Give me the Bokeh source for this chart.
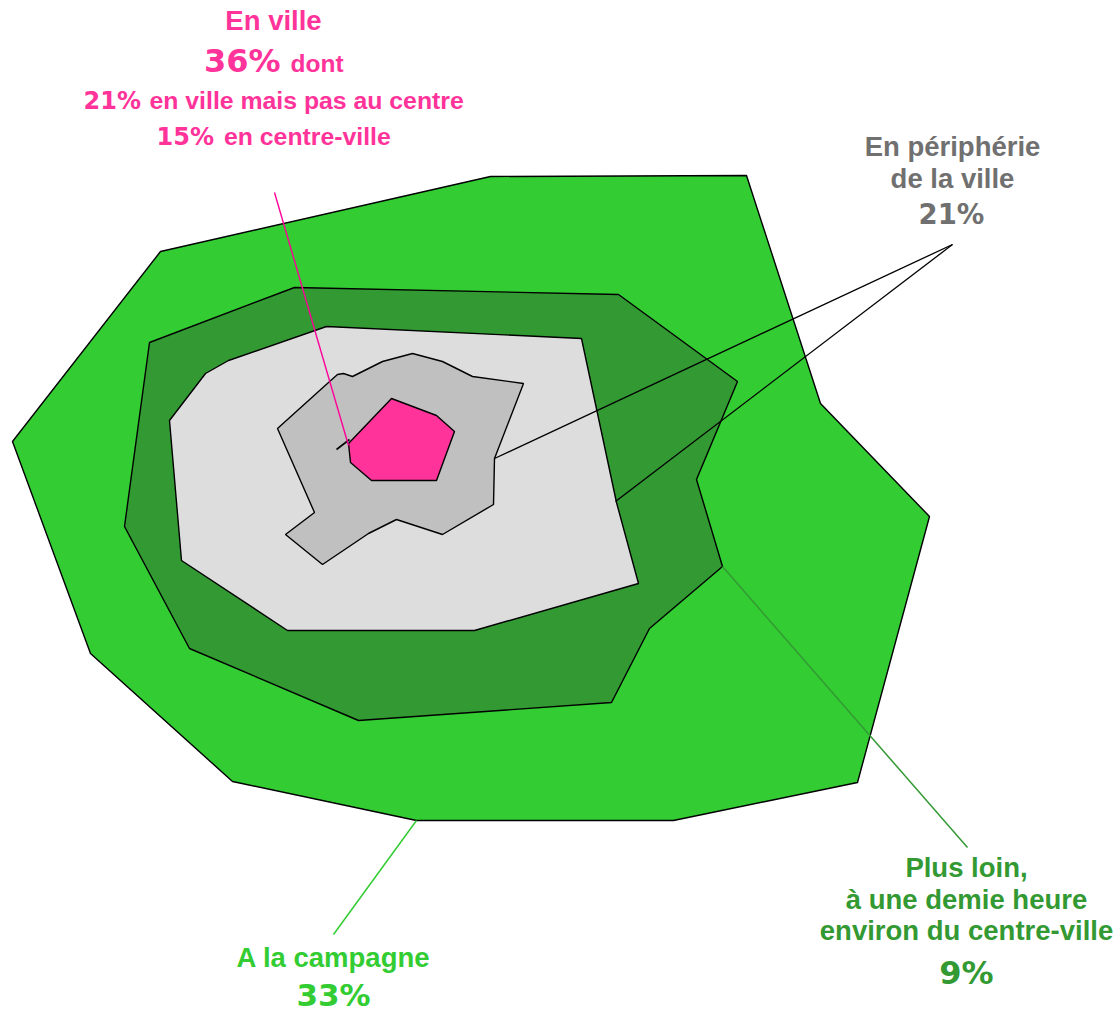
from bokeh.plotting import figure
from bokeh.embed import file_html
from bokeh.resources import INLINE
from bokeh.core.properties import value
from bokeh.models import Range1d

# Zones
campagne_x = [160, 490, 746, 820, 929, 857, 673, 416, 232, 90, 12]
campagne_y = [251, 176, 175, 403, 516, 782, 820, 820, 781, 653, 441]
plus_loin_x = [149, 294, 618, 737, 696, 722, 649, 611, 358, 189, 124]
plus_loin_y = [342, 287, 294, 381, 479, 566, 628, 702, 720, 648, 526]
peripherie_x = [326, 581, 616, 638, 474, 287, 181, 169, 205, 228]
peripherie_y = [326, 338, 502, 583, 630, 630, 560, 420, 373, 360]
ville_x = [277, 328, 337, 343, 352, 382, 412, 442, 472, 523, 494, 493, 442, 396, 368, 322, 285, 314]
ville_y = [428, 382, 374, 373, 376, 361, 353, 361, 376, 383, 458, 504, 534, 519, 533, 564, 534, 512]
centre_x = [391, 436, 454, 436, 371, 350, 348]
centre_y = [398, 415, 431, 480, 480, 462, 443]

# Leader lines
leader_pink = ([274, 348], [192, 445])
leader_black_a = ([952, 494], [244, 458])
leader_black_b = ([952, 615], [244, 501])
leader_dark = ([722, 967], [566, 847])
leader_light = ([416, 333], [820, 934])
sliver = ([336, 349], [449, 439])

PINK, GREY, GREEN, DARK = "#FF3399", "#707070", "#33CC33", "#339933"

p = figure(width=1115, height=1012, x_range=Range1d(0, 1115), y_range=Range1d(1012, 0),
           output_backend="svg", toolbar_location=None, min_border=0)
p.axis.visible = False
p.grid.visible = False
p.outline_line_color = None

for xs, ys, col in [(campagne_x, campagne_y, GREEN), (plus_loin_x, plus_loin_y, DARK),
                    (peripherie_x, peripherie_y, "#DDDDDD"), (ville_x, ville_y, "#C0C0C0"),
                    (centre_x, centre_y, PINK)]:
    p.patch(xs, ys, fill_color=col, line_color="black", line_width=1.4)

p.line(*sliver, line_color="black", line_width=1.6)
p.line(*leader_black_a, line_color="black", line_width=1.3)
p.line(*leader_black_b, line_color="black", line_width=1.3)
p.line(*leader_dark, line_color=DARK, line_width=1.5)
p.line(*leader_light, line_color=GREEN, line_width=1.5)
p.line(*leader_pink, line_color="#FF0099", line_width=1.4)

def label(x, y, s, col, size, font="Liberation Sans", align="center"):
    p.text([x], [y - 0.37 * size], text=[s], text_color=col, text_font=value(font), text_font_style="bold",
           text_font_size=f"{size}px", text_align=align, text_baseline="middle")

B = "DejaVu Sans"
label(273, 30, "En ville", PINK, 27.5)
label(203.5, 72, "36%", PINK, 32, B, "left")
label(290, 72, "dont", PINK, 24.5, align="left")
label(83, 109, "21%", PINK, 24, B, "left")
label(149, 109, "en ville mais pas au centre", PINK, 24.8, align="left")
label(156, 145, "15%", PINK, 24, B, "left")
label(223.5, 145, "en centre-ville", PINK, 24.8, align="left")
label(952, 156, "En périphérie", GREY, 27.5)
label(952, 188, "de la ville", GREY, 27.5)
label(951, 224, "21%", GREY, 27.5, B)
label(966, 877, "Plus loin,", DARK, 27.5)
label(966, 909, "à une demie heure", DARK, 27.5)
label(966, 940, "environ du centre-ville", DARK, 27.5)
label(966, 984, "9%", DARK, 32, B)
label(333, 967, "A la campagne", GREEN, 27.5)
label(333, 1006, "33%", GREEN, 31, B)

open("out.html", "w").write(file_html(p, INLINE))
